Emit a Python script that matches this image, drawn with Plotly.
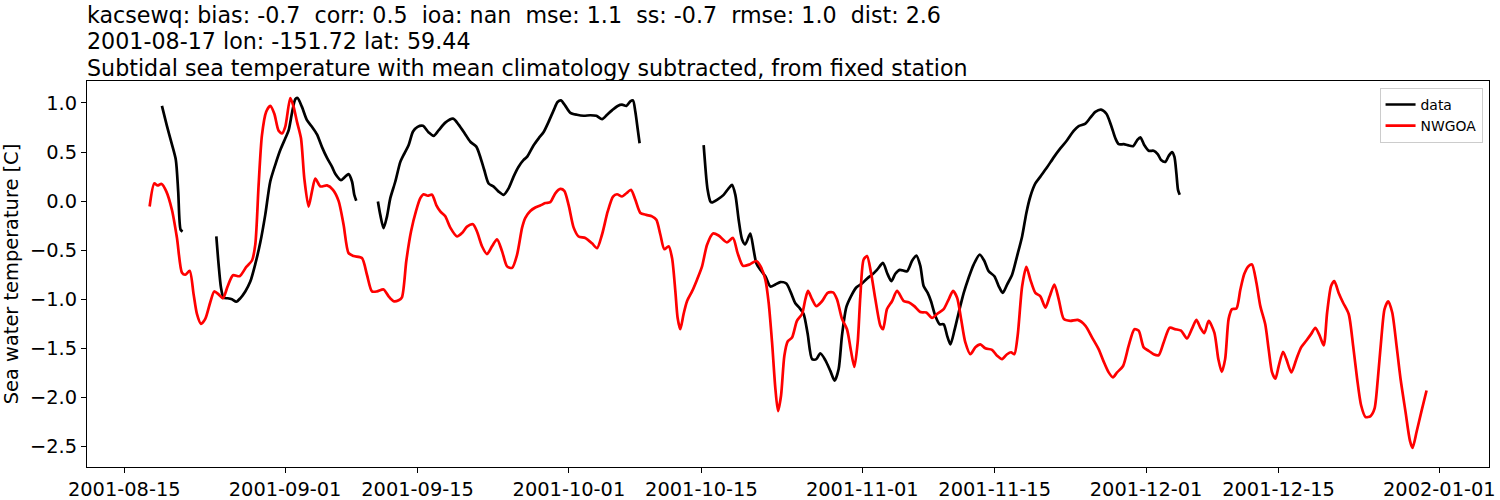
import datetime as dt
import plotly.graph_objects as go

# ---------------- data (days since 2001-08-15 00:00) ----------------
BASE = dt.datetime(2001, 8, 15)

nwgoa_day = [
    2.68, 3.17, 3.52, 3.94, 4.44, 5.04, 5.57, 6.10, 6.45, 6.91, 7.33, 7.68, 8.10, 8.56, 9.09, 9.51,
    9.97, 10.43, 10.92, 11.49, 12.19, 12.90, 13.50, 13.85, 14.2, 14.55, 15.0, 15.43, 15.86, 16.3,
    16.67, 17.02, 17.55, 17.9, 18.25, 18.68, 19.03, 19.48, 19.84, 20.19, 20.72, 21.43, 22.06,
    22.66, 23.18, 23.71, 24.24, 25.12, 25.65, 26.18, 26.71, 27.41, 27.94, 28.47, 29.0, 29.35,
    29.81, 30.31, 30.87, 31.29, 31.64, 32.07, 32.53, 32.98, 33.4, 33.93, 34.46, 35.17, 35.7,
    36.23, 36.86, 37.28, 37.81, 38.34, 38.87, 39.4, 39.93, 40.46, 40.99, 41.52, 42.05, 42.39,
    42.92, 43.45, 43.97, 44.5, 45.03, 45.56, 46.09, 46.51, 46.97, 47.5, 48.02, 48.73, 49.44,
    49.97, 50.5, 51.1, 51.66, 52.08, 52.61, 53.07, 53.56, 54.02, 54.55, 55.18, 55.78, 56.24,
    56.66, 57.08, 57.54, 57.9, 58.25, 58.49, 58.77, 59.12, 59.48, 60.01, 60.54, 61.07, 61.6,
    62.23, 62.82, 63.7, 64.34, 64.83, 65.4, 66.1, 66.8, 67.23, 67.76, 68.11, 68.47, 68.82, 69.1,
    69.42, 69.77, 70.12, 70.58, 71.1, 71.64, 71.99, 72.27, 72.7, 73.15, 73.75, 74.35, 74.91,
    75.33, 75.86, 76.39, 76.81, 77.17, 77.52, 77.8, 78.15, 78.51, 78.93, 79.39, 79.92, 80.2,
    80.62, 81.15, 81.68, 82.4, 82.9, 83.5, 84.14, 84.78, 85.38, 85.91, 86.61, 87.14, 87.6, 88.03,
    88.45, 88.9, 89.43, 89.96, 90.49, 91.01, 91.72, 92.25, 92.78, 93.31, 93.73, 94.08, 94.43,
    94.9, 95.35, 95.77, 96.3, 96.83, 97.36, 97.82, 98.31, 98.77, 99.3, 100.0, 100.78, 101.6,
    102.3, 103.0, 103.5, 104.05, 104.5, 104.94, 105.57, 106.16, 106.77, 107.22, 107.75, 108.28,
    108.8, 109.33, 109.86, 110.5, 111.1, 111.7, 112.33, 112.86, 113.32, 113.74, 114.16, 114.62,
    115.22, 115.64, 116.0, 116.36, 116.73, 117.09, 117.55, 117.97, 118.39, 118.85, 119.2,
    119.66, 120.08, 120.6, 120.96, 121.32, 121.67, 122.02, 122.48, 122.83, 123.36, 123.89,
    124.39, 124.95, 125.44, 125.9, 126.35, 126.78, 127.14, 127.56, 127.9, 128.36, 128.83,
    129.42, 129.89, 130.31, 130.73, 131.2, 131.73, 132.15, 132.5, 132.86, 133.21, 133.6,
    134.02, 134.48, 134.9, 135.43, 135.89, 136.17, 136.6, 137.09, 137.65,
]
nwgoa_val = [
    -0.055, 0.18, 0.16, 0.175, 0.10, -0.09, -0.375, -0.73, -0.75, -0.71, -0.95, -1.15, -1.25, -1.20, -1.03, -0.92,
    -0.95, -0.99, -0.87, -0.755, -0.765, -0.67, -0.605, -0.44, 0.165, 0.67, 0.91, 0.97, 0.89, 0.72,
    0.69, 0.76, 1.05, 0.96, 0.81, 0.64, 0.23, -0.055, 0.10, 0.23, 0.15, 0.16, 0.115,
    0.0, -0.24, -0.53, -0.56, -0.58, -0.75, -0.92, -0.92, -0.90, -0.97, -1.02, -1.01, -0.98,
    -0.61, -0.31, -0.09, 0.03, 0.07, 0.055, 0.065, -0.04, -0.105, -0.155, -0.27, -0.36, -0.325,
    -0.26, -0.235, -0.31, -0.46, -0.54, -0.46, -0.39, -0.51, -0.665, -0.68, -0.545, -0.27, -0.17,
    -0.10, -0.065, -0.045, -0.02, -0.01, 0.08, 0.125, 0.105, -0.04, -0.27, -0.36, -0.375, -0.43,
    -0.48, -0.34, -0.105, 0.047, 0.07, 0.047, 0.08, 0.115, 0.013, -0.12, -0.14, -0.155, -0.19,
    -0.34, -0.49, -0.46, -0.58, -0.92, -1.19, -1.305, -1.15, -1.02, -0.92, -0.80, -0.665, -0.445,
    -0.33, -0.35, -0.42, -0.375, -0.53, -0.66, -0.645, -0.61, -0.66, -0.80, -1.035, -1.44, -1.91, -2.14,
    -1.98, -1.575, -1.43, -1.39, -1.22, -1.15, -1.0, -0.915, -1.0, -1.07, -1.02, -0.935, -0.93,
    -1.0, -1.20, -1.305, -1.525, -1.69, -1.44, -0.97, -0.595, -0.56, -0.73, -1.0, -1.27, -1.305,
    -1.10, -1.02, -0.915, -1.02, -1.03, -1.07, -1.13, -1.135, -1.19, -1.15, -1.10, -1.0, -0.915, -0.985,
    -1.20, -1.44, -1.56, -1.49, -1.46, -1.50, -1.515, -1.575, -1.61, -1.56, -1.54, -1.56, -1.37,
    -0.87, -0.67, -0.80, -0.935, -0.97, -1.085, -0.97, -0.85, -1.0, -1.20, -1.22, -1.21, -1.27,
    -1.39, -1.51, -1.63, -1.745, -1.795, -1.745, -1.68, -1.475, -1.305, -1.32, -1.49, -1.525,
    -1.56, -1.57, -1.44, -1.29, -1.305, -1.32, -1.40, -1.30, -1.21, -1.29, -1.345, -1.22,
    -1.34, -1.61, -1.74, -1.61, -1.20, -1.10, -1.095, -0.90, -0.74, -0.66, -0.645,
    -0.83, -1.07, -1.255, -1.51, -1.745, -1.81, -1.68, -1.535, -1.61, -1.745, -1.61,
    -1.49, -1.42, -1.355, -1.29, -1.37, -1.47, -1.135, -0.865, -0.815, -0.935, -1.035,
    -1.15, -1.475, -1.81, -2.08, -2.20, -2.19, -2.115, -1.81, -1.41, -1.10, -1.02,
    -1.135, -1.475, -1.81, -2.15, -2.44, -2.515, -2.35, -2.15, -1.93,
]

# observed data; None marks a gap in the record
data_day = [
    3.98, 4.5, 5.0, 5.45, 5.7, 5.95, 6.16, None,
    9.73, 9.97, 10.22, 10.5, 10.92, 11.38, 11.84, 12.26, 12.79, 13.32, 13.85, 14.38, 14.9, 15.43,
    15.96, 16.49, 17.02, 17.37, 17.73, 18.08, 18.32, 18.78, 19.31, 19.84, 20.37, 20.9, 21.43,
    21.96, 22.3, 22.91, 23.36, 23.71, 24.07, 24.31, 24.52, None,
    26.81, 27.06, 27.41, 27.77, 28.12, 28.65, 29.18, 29.6, 30.05, 30.52, 31.0, 31.57, 32.17, 32.7,
    33.22, 33.93, 34.75, 35.34, 36.05, 36.58, 37.21, 37.63, 38.05, 38.51, 39.04, 39.57, 40.1,
    40.62, 41.15, 41.68, 42.21, 42.57, 43.27, 43.8, 44.33, 44.86, 45.38, 45.8, 46.16, 46.62,
    47.15, 47.85, 48.55, 49.26, 49.9, 50.5, 51.03, 51.55, 52.15, 52.61, 53.07, 53.49, 53.77,
    54.02, 54.26, 54.47, None,
    61.24, 61.52, 61.66, 61.95, 62.12, 62.65, 63.35, 63.88, 64.23, 64.59, 64.94, 65.3, 65.64,
    66.17, 66.52, 66.8, 67.23, 67.76, 68.29, 68.82, 69.34, 69.98, 70.47, 70.93, 71.39, 71.81,
    72.23, 72.7, 73.15, 73.57, 74.1, 74.63, 75.08, 75.51, 75.86, 76.32, 76.81, 77.37, 77.97,
    78.5, 79.03, 79.56, 80.2, 80.62, 81.08, 81.5, 81.96, 82.73, 83.26, 83.72, 84.14, 84.49,
    84.92, 85.27, 85.73, 86.19, 86.61, 86.97, 87.32, 87.74, 88.2, 88.73, 89.25, 89.78, 90.42,
    90.91, 91.37, 91.97, 92.42, 92.85, 93.31, 93.84, 94.37, 94.9, 95.35, 95.77, 96.3, 96.83,
    97.54, 98.24, 98.94, 99.65, 100.35, 100.88, 101.59, 102.11, 102.64, 103.24, 103.81, 104.3,
    104.76, 105.11, 105.64, 106.06, 106.63, 107.05, 107.4, 107.82, 108.28, 108.8, 109.23,
    109.59, 110.04, 110.39, 110.75, 111.0, 111.21, 111.38, 111.56,
]
data_val = [
    0.97, 0.77, 0.59, 0.42, 0.10, -0.29, -0.31, None,
    -0.36, -0.645, -0.88, -0.985, -0.99, -1.0, -1.025, -0.99, -0.92, -0.82, -0.64, -0.42, -0.14, 0.2,
    0.37, 0.52, 0.64, 0.72, 0.90, 1.04, 1.05, 0.96, 0.825, 0.757, 0.68, 0.55, 0.44,
    0.35, 0.28, 0.215, 0.25, 0.275, 0.2, 0.065, 0.003, None,
    -0.004, -0.14, -0.275, -0.155, 0.03, 0.2, 0.40, 0.485, 0.57, 0.71, 0.757, 0.767, 0.70, 0.665,
    0.72, 0.80, 0.84, 0.78, 0.68, 0.605, 0.555, 0.45, 0.317, 0.18, 0.148, 0.097, 0.064,
    0.13, 0.25, 0.35, 0.42, 0.45, 0.57, 0.64, 0.705, 0.81, 0.925, 1.01, 1.027, 0.97,
    0.90, 0.88, 0.87, 0.875, 0.87, 0.835, 0.88, 0.925, 0.97, 0.983, 0.97, 1.017, 1.027,
    0.91, 0.74, 0.59, None,
    0.57, 0.233, 0.115, -0.004, -0.014, 0.013, 0.064, 0.13, 0.165, 0.064, -0.19, -0.39, -0.44,
    -0.33, -0.495, -0.63, -0.70, -0.765, -0.87, -0.85, -0.825, -0.84, -0.935, -1.04, -1.09, -1.15,
    -1.35, -1.61, -1.61, -1.55, -1.62, -1.73, -1.83, -1.71, -1.37, -1.08, -0.97, -0.88, -0.84,
    -0.79, -0.75, -0.70, -0.63, -0.73, -0.815, -0.74, -0.70, -0.715, -0.61, -0.555, -0.66, -0.865,
    -0.935, -1.02, -1.17, -1.255, -1.255, -1.37, -1.46, -1.32, -1.135, -0.935, -0.78, -0.646, -0.545,
    -0.61, -0.714, -0.765, -0.865, -0.935, -0.85, -0.75, -0.56, -0.36, -0.12, 0.047, 0.18, 0.25,
    0.345, 0.446, 0.537, 0.62, 0.716, 0.764, 0.79, 0.85, 0.91, 0.933, 0.89, 0.774,
    0.64, 0.58, 0.58, 0.57, 0.56, 0.62, 0.65, 0.57, 0.513, 0.513, 0.48,
    0.42, 0.40, 0.46, 0.50, 0.45, 0.28, 0.115, 0.064,
]

xtick_dates = ["2001-08-15", "2001-09-01", "2001-09-15", "2001-10-01", "2001-10-15",
               "2001-11-01", "2001-11-15", "2001-12-01", "2001-12-15", "2002-01-01"]
ytick_vals = [1.0, 0.5, 0.0, -0.5, -1.0, -1.5, -2.0, -2.5]

title_lines = [
    "kacsewq: bias: -0.7  corr: 0.5  ioa: nan  mse: 1.1  ss: -0.7  rmse: 1.0  dist: 2.6",
    "2001-08-17 lon: -151.72 lat: 59.44",
    "Subtidal sea temperature with mean climatology subtracted, from fixed station",
]
ylabel = "Sea water temperature [C]"


def to_time(days):
    return [None if d is None else BASE + dt.timedelta(days=d) for d in days]


FONT = "DejaVu Sans"
TICK_SIZE = 19.4
TITLE_SIZE = 22.2

fig = go.Figure()
fig.add_trace(go.Scatter(
    x=to_time(data_day), y=data_val, mode="lines", name="data",
    line=dict(color="black", width=2.7, shape="spline", smoothing=0.7),
    connectgaps=False,
))
fig.add_trace(go.Scatter(
    x=to_time(nwgoa_day), y=nwgoa_val, mode="lines", name="NWGOA",
    line=dict(color="red", width=2.7, shape="spline", smoothing=0.7),
))

x_left = BASE + dt.timedelta(days=-3.94)
x_right = BASE + dt.timedelta(days=144.25)

fig.update_layout(
    width=1500, height=500,
    margin=dict(l=87, r=11, t=81, b=33, autoexpand=False),
    paper_bgcolor="white", plot_bgcolor="white",
    font=dict(family=FONT, color="black", size=TICK_SIZE),
    showlegend=True,
    legend=dict(
        x=0.9954, y=0.982, xanchor="right", yanchor="top",
        bgcolor="white", bordercolor="#cccccc", borderwidth=1,
        font=dict(family=FONT, size=13.9, color="black"),
        itemwidth=30, tracegroupgap=0,
    ),
    xaxis=dict(
        range=[x_left, x_right], type="date", automargin=False,
        tickvals=xtick_dates, ticktext=xtick_dates,
        showline=True, linecolor="black", linewidth=1.1, mirror=True,
        ticks="outside", ticklen=5, tickwidth=1.1, tickcolor="black",
        showgrid=False, zeroline=False,
        tickfont=dict(family=FONT, size=TICK_SIZE, color="black"),
    ),
    yaxis=dict(
        range=[-2.709, 1.224], automargin=False,
        tickvals=ytick_vals, tickformat=".1f",
        showline=True, linecolor="black", linewidth=1.1, mirror=True,
        ticks="outside", ticklen=5, tickwidth=1.1, tickcolor="black",
        showgrid=False, zeroline=False,
        tickfont=dict(family=FONT, size=TICK_SIZE, color="black"),
        title=dict(text=ylabel, font=dict(family=FONT, size=TICK_SIZE, color="black"), standoff=8),
    ),
)

for line, shift in zip(title_lines, [65.7, 40.1, 13.4]):
    fig.add_annotation(
        text=line, xref="paper", yref="paper", x=0, y=1,
        xanchor="left", yanchor="middle", yshift=shift, xshift=-2,
        showarrow=False, font=dict(family=FONT, size=TITLE_SIZE, color="black"),
    )

fig.write_html(
    "out.html",
    config={"displayModeBar": False},
    post_script="document.body.style.margin='0';document.body.style.overflow='hidden';",
)
